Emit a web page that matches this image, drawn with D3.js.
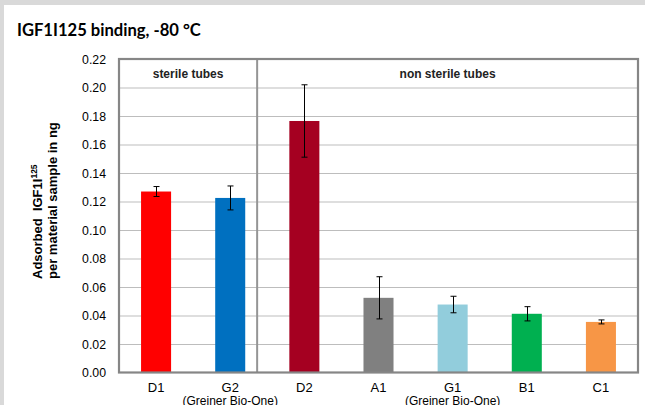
<!DOCTYPE html>
<html><head><meta charset="utf-8">
<script src="https://cdn.jsdelivr.net/npm/d3@7"></script>
<style>
html,body{margin:0;padding:0;background:#d9d9d9;}
svg{display:block;}
</style></head>
<body>
<svg id="chart" width="645" height="405"></svg>
<script>
const categories = ["D1","G2","D2","A1","G1","B1","C1"];
const values = [0.127, 0.1225, 0.1765, 0.0524, 0.0477, 0.0412, 0.0355];
const errors = [0.0035, 0.0084, 0.0254, 0.0148, 0.0058, 0.0050, 0.0014];
const colors = ["#FF0000","#0070C0","#A50021","#808080","#92CDDC","#00B050","#F79646"];
const subLabels = ["","(Greiner Bio-One)","","","(Greiner Bio-One)","",""];
const yTicks = [0,0.02,0.04,0.06,0.08,0.10,0.12,0.14,0.16,0.18,0.20,0.22];
const groups = [{label:"sterile tubes", first:0, last:1},{label:"non sterile tubes", first:2, last:6}];

const svg = d3.select("#chart");
// white panel
svg.append("rect").attr("x",4).attr("y",5).attr("width",641).attr("height",400).attr("fill","#ffffff");

const L=119, R=638, T=59, B=372.5;
const x = d3.scaleBand().domain(categories).range([L,R]).paddingInner(0.595).paddingOuter(0.2975);
const y = d3.scaleLinear().domain([0,0.22]).range([B,T]);

// gridlines
svg.append("g").attr("transform",`translate(${L},0)`)
  .call(d3.axisLeft(y).tickValues(yTicks.slice(1,-1)).tickSize(-(R-L)).tickFormat(""))
  .call(g=>g.select(".domain").remove())
  .call(g=>g.selectAll("line").attr("stroke","#bdbdbd").attr("stroke-width",1.1));

// y tick labels
svg.append("g").attr("transform",`translate(${L-10},0)`)
  .call(d3.axisLeft(y).tickValues(yTicks).tickSize(0).tickFormat(d3.format(".2f")))
  .call(g=>g.select(".domain").remove())
  .call(g=>g.selectAll("text").attr("font-family","Liberation Sans, Arial, sans-serif").attr("font-size","12.3px").attr("fill","#000").attr("dy","0.35em"));

// bars
svg.append("g").selectAll("rect").data(categories).join("rect")
  .attr("x",d=>x(d)).attr("width",x.bandwidth())
  .attr("y",(d,i)=>y(values[i])).attr("height",(d,i)=>B-y(values[i]))
  .attr("fill",(d,i)=>colors[i]);

// error bars
const eg = svg.append("g").attr("stroke","#000").attr("stroke-width",1);
categories.forEach((c,i)=>{
  const cx = Math.round(x(c)+x.bandwidth()/2)+0.5;
  const y1 = y(values[i]+errors[i]), y2 = y(values[i]-errors[i]);
  eg.append("line").attr("x1",cx).attr("x2",cx).attr("y1",y1).attr("y2",y2);
  eg.append("line").attr("x1",cx-3).attr("x2",cx+3).attr("y1",y1).attr("y2",y1);
  eg.append("line").attr("x1",cx-3).attr("x2",cx+3).attr("y1",y2).attr("y2",y2);
});

// group divider
const divX = x("G2")+x.bandwidth() + (x("D2")-x("G2")-x.bandwidth())*0.27;
svg.append("line").attr("x1",divX).attr("x2",divX).attr("y1",T).attr("y2",B)
  .attr("stroke","#959595").attr("stroke-width",2);

// plot border
svg.append("rect").attr("x",L).attr("y",T).attr("width",R-L).attr("height",B-T)
  .attr("fill","none").attr("stroke","#868686").attr("stroke-width",2.2);

// group labels
const bounds = [L, divX, R];
groups.forEach((g,i)=>{
  svg.append("text").attr("x",(bounds[i]+bounds[i+1])/2).attr("y",78)
    .attr("text-anchor","middle").attr("font-family","Liberation Sans, Arial, sans-serif")
    .attr("font-weight","bold").attr("font-size","12px").attr("fill","#222").text(g.label);
});

// x labels
const xl = svg.append("g").attr("font-family","Liberation Sans, Arial, sans-serif").attr("fill","#000").attr("text-anchor","middle");
categories.forEach((c,i)=>{
  const cx = x(c)+x.bandwidth()/2;
  xl.append("text").attr("x",cx).attr("y",392).attr("font-size","13px").text(c);
  if(subLabels[i]) xl.append("text").attr("x",cx).attr("y",405).attr("font-size","12px").text(subLabels[i]);
});

// title
svg.append("text").attr("x",17).attr("y",36).attr("font-family","Lato, Carlito, Calibri, sans-serif")
  .attr("font-weight","bold").attr("font-size","16.6px").attr("fill","#000").text("IGF1I125 binding, -80 °C");

// y axis title
const yt = svg.append("g").attr("font-family","Liberation Sans, Arial, sans-serif").attr("font-weight","bold").attr("font-size","13px").attr("fill","#000");
const t1 = yt.append("text").attr("transform","translate(42,279) rotate(-90)");
t1.append("tspan").text("Adsorbed\u00a0\u00a0IGF1I");
t1.append("tspan").attr("font-size","8.5px").attr("dy","-5").text("125");
yt.append("text").attr("transform","translate(57,279) rotate(-90)").text("per material sample in ng");
</script>
</body></html>
